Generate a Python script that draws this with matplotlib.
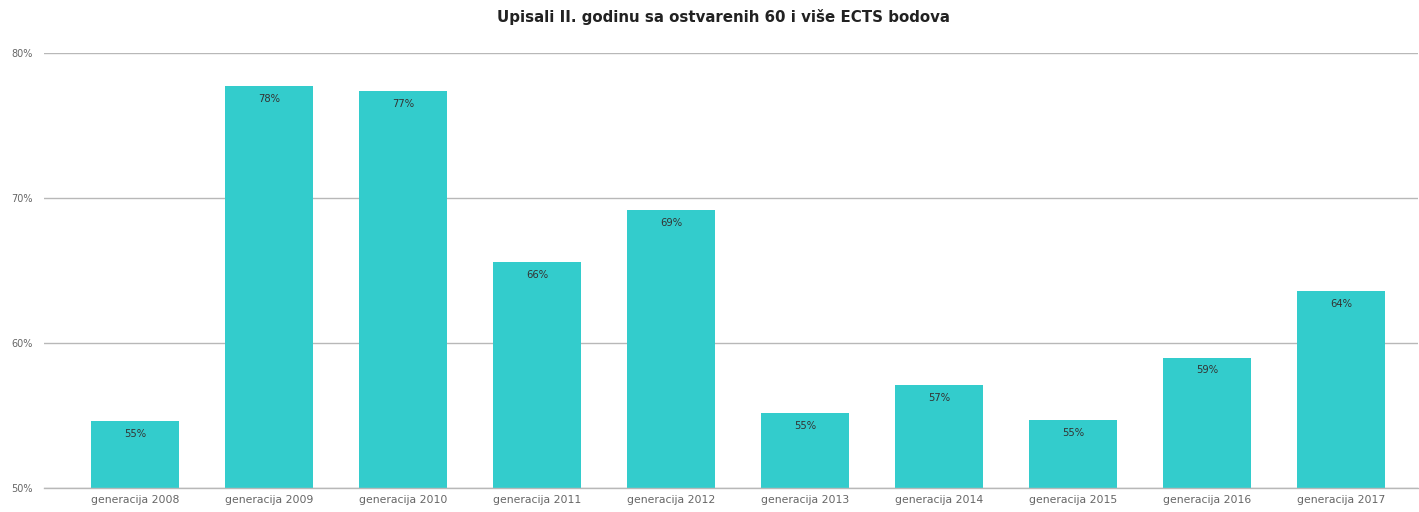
import matplotlib
matplotlib.use("Agg")
import matplotlib.pyplot as plt
from matplotlib.ticker import FuncFormatter

# podaci
generacije = ["generacija 2008", "generacija 2009", "generacija 2010", "generacija 2011",
              "generacija 2012", "generacija 2013", "generacija 2014", "generacija 2015",
              "generacija 2016", "generacija 2017"]
postotak = [54.6, 77.7, 77.4, 65.6, 69.2, 55.2, 57.1, 54.7, 59.0, 63.6]

fig = plt.figure(figsize=(14.19, 5.12), dpi=100)
ax = fig.add_axes([44 / 1419, 1 - 488 / 512, (1418 - 44) / 1419, (488 - 53) / 512])

x = range(len(generacije))
bars = ax.bar(x, postotak, width=0.65, color="#33CCCC", zorder=2)

for i, v in enumerate(postotak):
    ax.text(i, v - 0.55, f"{round(v)}%", ha="center", va="top", fontsize=7.2, color="#333333", zorder=3)

ax.set_ylim(50, 80)
ax.set_yticks([50, 60, 70, 80])
ax.yaxis.set_major_formatter(FuncFormatter(lambda v, p: f"{v:.0f}%"))
ax.set_xlim(-0.679, 9.575)
ax.set_xticks(list(x))
ax.set_xticklabels(generacije)
ax.tick_params(axis="x", length=0, labelsize=7.8, colors="#666666", pad=5)
ax.tick_params(axis="y", length=0, labelsize=7, colors="#666666", pad=8)
ax.grid(axis="y", color="#b8b8b8", linewidth=1.0, zorder=1)
ax.set_axisbelow(True)
for s in ["top", "right", "left"]:
    ax.spines[s].set_visible(False)
ax.spines["bottom"].set_color("#b8b8b8")
ax.spines["bottom"].set_linewidth(1.0)

fig.text(723 / 1419, 1 - 17 / 512, "Upisali II. godinu sa ostvarenih 60 i više ECTS bodova",
         ha="center", va="center", fontsize=10.8, fontweight="bold", color="#222222")

fig.savefig("out.png", dpi=100)
